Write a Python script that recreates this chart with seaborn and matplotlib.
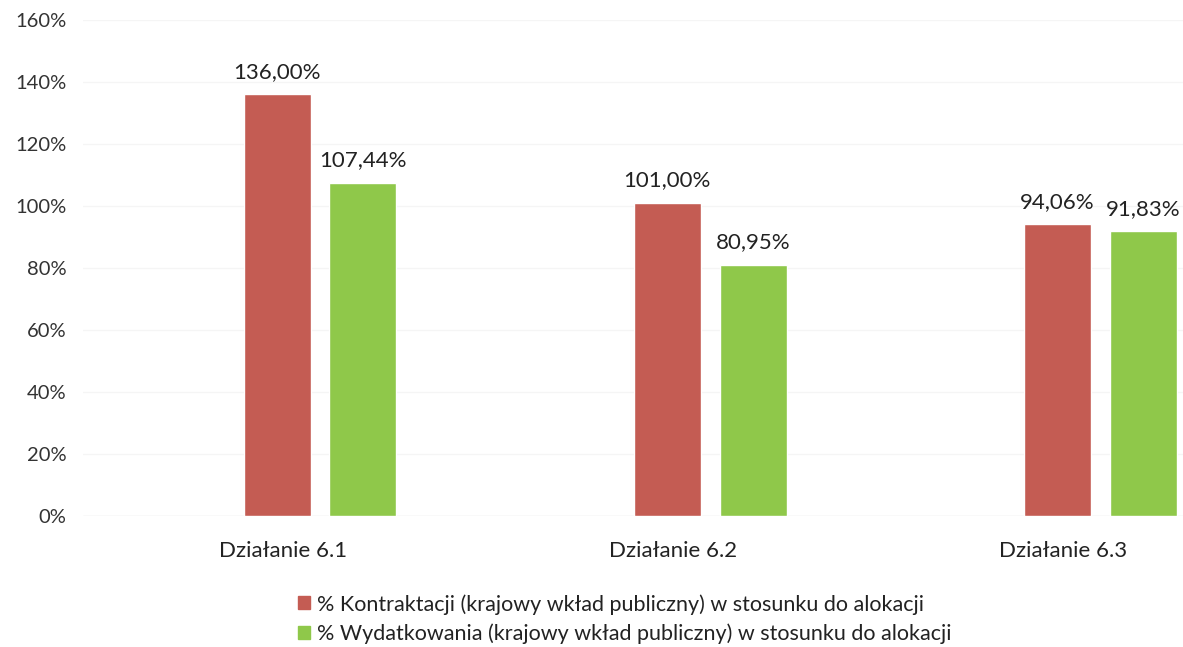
import matplotlib
matplotlib.use('Agg')
import matplotlib.pyplot as plt
import numpy as np
import pandas as pd
import seaborn as sns

categories = ['Działanie 6.1', 'Działanie 6.2', 'Działanie 6.3']
series = ['% Kontraktacji (krajowy wkład publiczny) w stosunku do alokacji',
          '% Wydatkowania (krajowy wkład publiczny) w stosunku do alokacji']
kontraktacja = [136.00, 101.00, 94.06]
wydatkowanie = [107.44, 80.95, 91.83]
y_ticks = [0, 20, 40, 60, 80, 100, 120, 140, 160]
colors = ['#c45c53', '#8fc84a']

df = pd.DataFrame({
    'kategoria': categories * 2,
    'seria': [series[0]] * 3 + [series[1]] * 3,
    'wartosc': kontraktacja + wydatkowanie,
})

sns.set_theme(style='white')
plt.rcParams['font.family'] = ['Lato', 'DejaVu Sans']

fig = plt.figure(figsize=(11.83, 6.47), dpi=100)
ax = fig.add_axes([0.070, 0.2025, 0.930, 0.7665])

sns.barplot(data=df, x='kategoria', y='wartosc', hue='seria', hue_order=series,
            palette=colors, width=0.44, gap=0.22, saturation=1, ax=ax,
            legend=False, errorbar=None)

for cont in ax.containers:
    ax.bar_label(cont, labels=[f'{v:.2f}%'.replace('.', ',') for v in cont.datavalues],
                 padding=9, fontsize=16, color='#222222')

ax.set_ylim(0, 160)
ax.set_yticks(y_ticks)
ax.set_yticklabels([f'{t}%' for t in y_ticks], fontsize=14.5, color='#333333')
ax.set_xticks(np.arange(len(categories)) - 0.095)
ax.set_xticklabels(categories, fontsize=16, color='#222222')
ax.set_xlim(-0.608, 2.212)
ax.set_xlabel('')
ax.set_ylabel('')
ax.yaxis.grid(True, color='#f5f5f5', linewidth=1)
ax.set_axisbelow(True)
ax.tick_params(axis='y', pad=12, length=0)
ax.tick_params(axis='x', pad=18, length=0)
for s in ax.spines.values():
    s.set_visible(False)
ax.axhline(0, color='#ececec', linewidth=1, zorder=0)

handles = [plt.Rectangle((0, 0), 1, 1, color=c) for c in colors]
fig.legend(handles, series, loc='center', bbox_to_anchor=(0.528, 0.0435), ncol=1,
           frameon=False, fontsize=15.5, handlelength=0.55, handleheight=0.55,
           handletextpad=0.3, labelspacing=0.4, labelcolor='#222222')

fig.savefig('out.png', dpi=100)
